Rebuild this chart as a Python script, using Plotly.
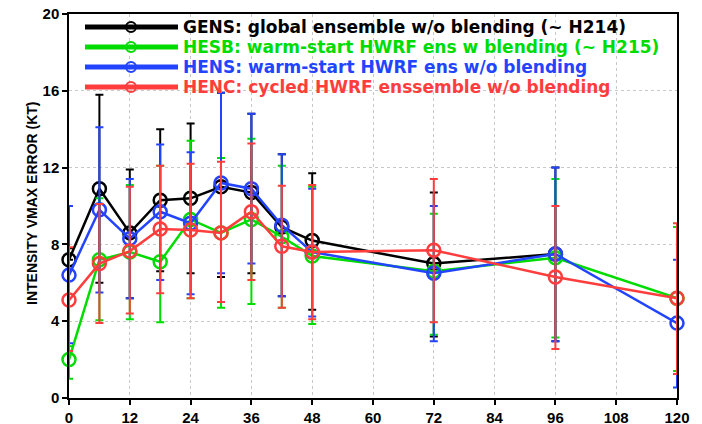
import plotly.graph_objects as go

hours = [0, 6, 12, 18, 24, 30, 36, 42, 48, 72, 96, 120]

gens_mean = [7.2, 10.9, 8.6, 10.3, 10.4, 11.0, 10.7, 8.9, 8.2, 7.0, 7.5, None]
gens_hi = [7.8, 15.8, 11.9, 14.0, 14.3, 15.9, 14.8, 12.7, 11.7, 10.7, 12.0, None]
gens_lo = [7.2, 6.0, 5.2, 6.6, 6.5, 6.3, 6.5, 5.3, 4.6, 3.2, 2.95, None]

hesb_mean = [2.0, 7.2, 7.6, 7.1, 9.3, 8.6, 9.3, 8.4, 7.4, 6.6, 7.3, 5.2]
hesb_hi = [2.7, 10.4, 11.1, 12.1, 13.4, 12.5, 13.5, 12.1, 11.0, 9.6, 11.4, 8.9]
hesb_lo = [1.0, 4.05, 4.1, 3.95, 5.2, 4.7, 4.9, 4.7, 3.85, 3.3, 3.15, 1.4]

hens_mean = [6.4, 9.8, 8.3, 9.7, 9.1, 11.2, 10.9, 9.0, 7.6, 6.5, 7.5, 3.9]
hens_hi = [10.0, 14.1, 11.4, 13.2, 12.8, 15.9, 14.8, 12.7, 10.9, 10.0, 12.0, 7.2]
hens_lo = [2.85, 5.5, 5.2, 6.15, 5.4, 6.5, 7.0, 5.3, 4.25, 2.95, 2.95, 0.55]

henc_mean = [5.1, 7.0, 7.65, 8.8, 8.75, 8.6, 9.7, 7.9, 7.6, 7.7, 6.3, 5.2]
henc_hi = [7.85, 10.1, 11.0, 12.1, 12.2, 12.3, 13.25, 11.05, 11.1, 11.4, 10.0, 9.1]
henc_lo = [2.45, 3.9, 4.4, 5.45, 5.2, 5.0, 6.15, 4.7, 4.1, 3.95, 2.55, 1.25]

series = [
    ("GENS: global ensemble w/o blending (~ H214)", "#000000", gens_mean, gens_hi, gens_lo),
    ("HESB: warm-start HWRF ens w blending (~ H215)", "#00dc00", hesb_mean, hesb_hi, hesb_lo),
    ("HENS: warm-start HWRF ens w/o blending", "#2244ff", hens_mean, hens_hi, hens_lo),
    ("HENC: cycled HWRF enssemble w/o blending", "#ff3d3d", henc_mean, henc_hi, henc_lo),
]

tick_font = dict(family="Liberation Sans, Arial, sans-serif",
                 size=15, color="black", weight="bold")

fig = go.Figure()
for name, color, mean, hi, lo in series:
    xs, ys, up, dn = [], [], [], []
    for h, m, a, b in zip(hours, mean, hi, lo):
        if m is None:
            continue
        xs.append(h)
        ys.append(m)
        up.append(a - m)
        dn.append(m - b)
    fig.add_trace(go.Scatter(
        x=xs, y=ys, mode="lines+markers", name=name,
        line=dict(color=color, width=2.5),
        marker=dict(symbol="circle-open", size=13, color=color, line=dict(width=2.5, color=color)),
        error_y=dict(type="data", array=up, arrayminus=dn, symmetric=False,
                     color=color, thickness=2, width=4),
        cliponaxis=False, showlegend=False,
    ))

# manual legend (GrADS style); screen-pixel helpers mapped to paper coords
x0, x1 = 69, 677
y0, y1 = 398, 14


def px(x):
    return (x - x0) / (x1 - x0)


def py(y):
    return (y0 - y) / (y0 - y1)


row_y = [27, 47, 67, 87]
for (name, color, *_), ry in zip(series, row_y):
    fig.add_shape(type="line", xref="paper", yref="paper",
                  x0=px(85), x1=px(178), y0=py(ry), y1=py(ry),
                  line=dict(color=color, width=5))
    fig.add_shape(type="circle", xref="paper", yref="paper",
                  x0=px(126), x1=px(136), y0=py(ry + 5), y1=py(ry - 5),
                  line=dict(color=color, width=2), fillcolor="rgba(0,0,0,0)")
    fig.add_annotation(xref="paper", yref="paper", x=px(182), y=py(ry),
                       xanchor="left", yanchor="middle", showarrow=False, borderpad=0,
                       text=name, font=dict(family="DejaVu Sans, sans-serif", size=17,
                                            color=color, weight="bold"))

fig.add_annotation(xref="paper", yref="paper", x=px(32), y=py(203),
                   xanchor="center", yanchor="middle", showarrow=False, textangle=-90,
                   text="INTENSITY VMAX ERROR (KT)",
                   font=dict(family="Liberation Sans, sans-serif",
                             size=14, color="black", weight="bold"))

axis_common = dict(showline=True, linecolor="black", linewidth=1.5, mirror=True,
                   ticks="outside", ticklen=5, tickwidth=1.5, tickcolor="black",
                   showgrid=True, gridcolor="#c8c8c8", gridwidth=1, griddash="dot",
                   zeroline=False, tickfont=tick_font, automargin=False,
                   ticklabeloverflow="allow")

fig.update_layout(
    width=702, height=424,
    margin=dict(l=69, r=25, t=14, b=26, autoexpand=False),
    paper_bgcolor="white", plot_bgcolor="white",
    xaxis=dict(range=[0, 120], tickmode="array", tickvals=list(range(0, 121, 12)),
               ticktext=[str(v) for v in range(0, 121, 12)], ticklabelstandoff=0, **axis_common),
    yaxis=dict(range=[0, 20], tickmode="array", tickvals=[0, 4, 8, 12, 16, 20],
               ticktext=["0", "4", "8", "12", "16", "20"], **axis_common),
)

# remove the page's default body margin so the 702x424 figure fills the window exactly
fig.write_html("out.html",
               config={"displayModeBar": False},
               post_script="document.body.style.margin='0';document.body.style.overflow='hidden';")
